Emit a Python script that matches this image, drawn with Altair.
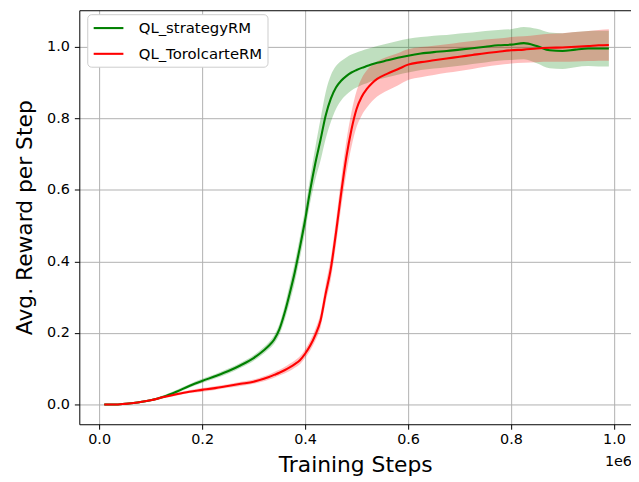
import altair as alt
import pandas as pd

SERIES = ["QL_strategyRM", "QL_TorolcarteRM"]
COLORS = ["#008000", "#ff0000"]

steps = [10000, 30000, 50000, 75000, 100000, 125000, 150000, 175000, 200000, 225000,
         250000, 275000, 300000, 320000, 330000, 340000, 350000, 360000, 370000, 380000,
         390000, 400000, 410000, 420000, 430000, 440000, 450000, 460000, 470000, 480000,
         490000, 500000, 510000, 520000, 530000, 540000, 560000, 580000, 600000, 625000,
         650000, 675000, 700000, 725000, 750000, 775000, 800000, 825000, 850000, 875000,
         900000, 925000, 950000, 970000, 990000]

green_mean = [0.000, 0.000, 0.002, 0.006, 0.012, 0.022, 0.036, 0.052, 0.066, 0.079,
              0.093, 0.110, 0.130, 0.152, 0.165, 0.182, 0.210, 0.255, 0.310, 0.370,
              0.440, 0.515, 0.600, 0.675, 0.740, 0.808, 0.855, 0.886, 0.905, 0.918,
              0.928, 0.935, 0.941, 0.946, 0.951, 0.955, 0.962, 0.969, 0.975, 0.981,
              0.985, 0.988, 0.992, 0.996, 1.000, 1.004, 1.006, 1.010, 1.002, 0.990,
              0.988, 0.992, 0.995, 0.995, 0.995]

green_spread = [0.002, 0.002, 0.002, 0.003, 0.003, 0.004, 0.005, 0.005, 0.006, 0.006,
                0.007, 0.007, 0.008, 0.009, 0.010, 0.012, 0.015, 0.020, 0.025, 0.028,
                0.030, 0.032, 0.035, 0.045, 0.058, 0.065, 0.065, 0.060, 0.055, 0.052,
                0.050, 0.049, 0.048, 0.048, 0.047, 0.047, 0.047, 0.047, 0.047, 0.046,
                0.046, 0.045, 0.045, 0.044, 0.044, 0.043, 0.043, 0.045, 0.048, 0.050,
                0.050, 0.049, 0.049, 0.050, 0.050]

red_mean = [0.000, 0.000, 0.002, 0.006, 0.012, 0.021, 0.029, 0.036, 0.041, 0.046,
            0.052, 0.058, 0.064, 0.072, 0.077, 0.083, 0.089, 0.096, 0.104, 0.113,
            0.124, 0.142, 0.165, 0.195, 0.235, 0.310, 0.380, 0.480, 0.590, 0.690,
            0.768, 0.826, 0.860, 0.882, 0.898, 0.910, 0.925, 0.937, 0.950, 0.957,
            0.962, 0.967, 0.972, 0.977, 0.982, 0.986, 0.990, 0.992, 0.995, 0.997,
            0.998, 1.000, 1.002, 1.004, 1.005]

red_spread = [0.002, 0.002, 0.002, 0.003, 0.003, 0.003, 0.004, 0.004, 0.005, 0.005,
              0.005, 0.006, 0.006, 0.007, 0.007, 0.008, 0.008, 0.009, 0.010, 0.010,
              0.011, 0.012, 0.014, 0.016, 0.020, 0.025, 0.030, 0.035, 0.040, 0.045,
              0.048, 0.050, 0.052, 0.052, 0.050, 0.049, 0.047, 0.045, 0.043, 0.042,
              0.041, 0.040, 0.040, 0.039, 0.038, 0.037, 0.037, 0.037, 0.038, 0.039,
              0.040, 0.041, 0.042, 0.043, 0.044]

x_ticks = [0, 200000, 400000, 600000, 800000, 1000000]
y_ticks = [0.0, 0.2, 0.4, 0.6, 0.8, 1.0]

rows = []
for name, mean, spread in [(SERIES[0], green_mean, green_spread), (SERIES[1], red_mean, red_spread)]:
    for s, m, d in zip(steps, mean, spread):
        rows.append({"series": name, "step": s, "reward": m, "lo": m - d, "hi": m + d})
df = pd.DataFrame(rows)

W, H = 557, 418
x_scale = alt.Scale(domain=[-38500, 1033000], nice=False, zero=False)
y_scale = alt.Scale(domain=[-0.055, 1.102], nice=False, zero=False)
color_scale = alt.Scale(domain=SERIES, range=COLORS)

y_axis = alt.Axis(values=y_ticks, format=".1f", title="Avg. Reward per Step",
                  grid=True, titlePadding=10, labelPadding=5)

legend = alt.Legend(title=None, orient="none", legendX=8, legendY=4,
                    symbolType="M-1,0L3,0", symbolSize=225,
                    symbolStrokeWidth=2.1, symbolOpacity=1, labelFontSize=15,
                    labelFont="DejaVu Sans", labelColor="black",
                    labelOffset=29, padding=5, rowPadding=9,
                    fillColor="white", strokeColor="#cccccc",
                    cornerRadius=4)

bands = alt.Chart(df).mark_area(opacity=0.25, interpolate="monotone").encode(
    x=alt.X("step:Q", scale=x_scale,
            axis=alt.Axis(orient="top", labels=False, ticks=False, grid=False,
                          title=None, domain=True)),
    y=alt.Y("lo:Q", scale=y_scale, stack=None, axis=y_axis),
    y2="hi:Q",
    color=alt.Color("series:N", scale=color_scale, legend=legend),
)

lines = alt.Chart(df).mark_line(strokeWidth=2.1, interpolate="monotone").encode(
    x=alt.X("step:Q", scale=x_scale,
            axis=alt.Axis(values=x_ticks, labelExpr="format(datum.value / 1000000, '.1f')",
                          title="Training Steps", grid=True, labelFlush=False,
                          labelPadding=3, titlePadding=9)),
    y=alt.Y("reward:Q", scale=y_scale, axis=y_axis),
    color=alt.Color("series:N", scale=color_scale, legend=legend),
)

offset_label = alt.Chart(pd.DataFrame({"label": ["1e6"]})).mark_text(
    align="right", baseline="alphabetic", fontSize=14.5, font="DejaVu Sans", color="black"
).encode(x=alt.value(W + 1), y=alt.value(H + 42), text="label:N")

chart = alt.layer(bands, lines, offset_label).resolve_axis(x="independent").properties(
    width=W, height=H,
    autosize=alt.AutoSizeParams(type="none"),
    padding={"left": 72, "top": 0, "right": 0, "bottom": 52},
).configure_view(stroke=None).configure_axis(
    labelFont="DejaVu Sans", labelFontSize=14.5, labelColor="black",
    titleFont="DejaVu Sans", titleFontSize=22, titleFontWeight="normal", titleColor="black",
    domainColor="black", domainWidth=1, tickColor="black", tickSize=5, tickWidth=1,
    gridColor="#b0b0b0", gridWidth=1, gridOpacity=1,
)

chart.save("out.html", embed_options={"renderer": "svg", "actions": False})
